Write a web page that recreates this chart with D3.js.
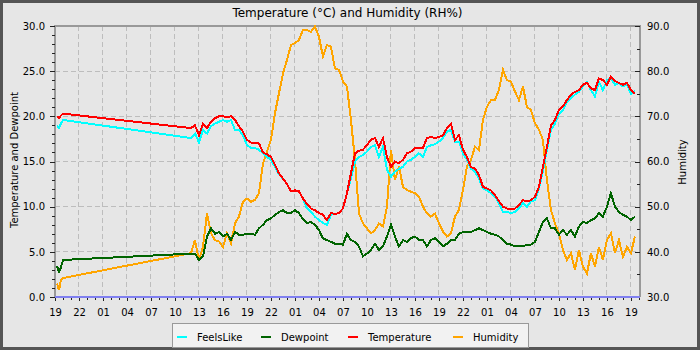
<!DOCTYPE html>
<html>
<head>
<meta charset="utf-8">
<script src="https://cdn.jsdelivr.net/npm/d3@7"></script>
<style>
  body { margin: 0; background: #e6e6e6; }
  svg text { font-family: "DejaVu Sans", sans-serif; fill: #000; }
</style>
</head>
<body>
<script>
// hours after 19:00 on the first day
const hours = [0.25, 0.5, 0.75, 1.0,
    17, 17.5, 18, 18.5, 19, 19.5, 20, 20.5, 21, 21.5, 22, 22.5, 23, 23.5, 24, 24.5,
    25, 25.5, 26, 26.5, 27, 27.5, 28, 28.5, 29, 29.5, 30, 30.5, 31, 31.5,
    32, 32.5, 33, 33.5, 34, 34.5, 35, 35.5, 36, 36.5, 37, 37.5, 38, 38.5,
    39, 39.5, 40, 40.5, 41, 41.5, 42, 42.5, 43, 43.5, 44, 44.5, 45, 45.5,
    46, 46.5, 47, 47.5, 48, 48.5, 49, 49.5, 50, 50.5, 51, 51.5, 52, 52.5,
    53, 53.5, 54, 54.5, 55, 55.5, 56, 56.5, 57, 57.5, 58, 58.5, 59,
    59.5, 60, 60.5, 61, 61.5, 62, 62.5, 63, 63.5, 64, 64.5, 65, 65.5, 66,
    66.5, 67, 67.5, 68, 68.5, 69, 69.5, 70, 70.5, 71, 71.5, 72, 72.5];

const temperature = [20.0, 19.8, 20.1, 20.3,
    18.7, 19.0, 17.9, 19.2, 18.7, 19.4, 19.8, 20.0, 20.0, 19.9, 20.0, 19.6, 18.9, 18.3, 17.4, 17.1,
    17.1, 17.0, 16.0, 15.8, 15.5, 14.6, 13.7, 13.1, 12.5, 11.7, 11.8, 11.7, 10.9, 10.3,
    9.8, 9.6, 9.3, 9.1, 8.5, 9.3, 9.2, 9.3, 9.8, 11.5, 13.7, 15.9, 16.2, 16.3,
    16.8, 17.4, 17.6, 16.6, 17.6, 15.5, 14.4, 15.0, 14.8, 15.2, 15.9, 16.1, 16.5, 16.5,
    16.5, 17.6, 17.7, 17.6, 17.7, 17.9, 18.7, 19.2, 17.4, 17.9, 16.3, 15.5, 14.4, 14.2,
    13.5, 12.2, 12.0, 11.8, 11.3, 10.6, 10.0, 9.8, 9.7, 9.8, 10.2, 10.7, 10.6,
    10.7, 11.1, 12.2, 14.4, 16.6, 19.0, 19.6, 20.7, 21.1, 21.8, 22.4, 22.7, 22.9, 23.5,
    23.7, 23.1, 22.9, 24.2, 24.0, 23.5, 24.4, 23.9, 23.7, 23.5, 23.7, 22.9, 22.5];

const feelsLike = [19.0, 18.7, 19.2, 19.6,
    17.6, 18.1, 17.1, 18.5, 18.1, 18.9, 19.2, 19.4, 19.6, 19.4, 19.6, 18.5, 18.5, 17.9, 16.8, 16.5,
    16.5, 16.3, 15.9, 15.5, 15.2, 14.4, 13.6, 13.1, 12.5, 11.7, 11.8, 11.7, 10.9, 9.8,
    9.4, 8.9, 8.5, 8.2, 8.0, 9.1, 9.2, 9.3, 9.8, 11.5, 13.1, 15.0, 15.5, 15.7,
    16.1, 16.6, 16.8, 15.5, 16.6, 14.1, 13.3, 13.9, 14.2, 14.4, 15.0, 15.2, 15.5, 15.9,
    15.5, 16.6, 16.8, 16.9, 17.2, 17.6, 18.3, 18.5, 17.2, 17.2, 15.9, 15.2, 14.2, 13.9,
    13.1, 12.0, 11.8, 11.5, 11.1, 10.4, 9.4, 9.4, 9.3, 9.4, 9.8, 10.4, 10.0,
    10.6, 10.7, 12.0, 14.0, 16.3, 18.5, 19.2, 20.3, 20.7, 21.6, 22.0, 22.4, 22.7, 23.3,
    23.8, 22.9, 22.2, 23.8, 22.9, 24.0, 24.2, 23.5, 23.7, 23.3, 23.5, 22.5, 22.8];

const dewpoint = [3.4, 2.8, 3.3, 4.1,
    4.8, 4.8, 4.1, 4.5, 6.7, 7.6, 7.0, 7.2, 6.7, 7.0, 6.3, 7.2, 6.9, 6.9, 7.0, 7.0,
    6.9, 7.6, 8.0, 8.5, 8.7, 9.1, 9.4, 9.6, 9.3, 9.3, 9.6, 9.3, 8.6, 8.2,
    8.3, 8.0, 7.4, 6.5, 6.3, 6.1, 5.9, 5.9, 5.8, 7.0, 6.3, 6.1, 5.6, 4.5,
    4.8, 5.2, 5.9, 5.2, 5.6, 6.7, 8.0, 6.7, 5.6, 6.3, 6.1, 6.5, 6.7, 6.3,
    6.3, 5.6, 6.3, 6.5, 6.1, 5.6, 5.9, 6.3, 6.3, 7.0, 7.2, 7.2, 7.2, 7.4,
    7.6, 7.4, 7.2, 7.0, 6.9, 6.7, 6.3, 5.9, 5.8, 5.6, 5.6, 5.6, 5.8,
    5.8, 6.1, 7.2, 8.3, 8.7, 7.6, 7.6, 6.9, 7.4, 6.9, 7.4, 6.7, 7.8, 8.3,
    8.2, 8.5, 8.7, 9.3, 8.9, 10.0, 11.5, 10.0, 9.4, 9.1, 8.9, 8.5, 8.9];

const humidity = [33.0, 31.5, 33.8, 34.2,
    39.7, 42.6, 38.2, 41.1, 48.5, 44.1, 42.6, 42.3, 41.1, 44.1, 41.9, 46.3, 47.8, 51.1, 51.8, 51.1,
    51.5, 53.0, 59.6, 62.2, 64.8, 70.7, 75.1, 79.5, 82.5, 85.8, 86.2, 86.9, 89.1, 89.1,
    88.7, 89.9, 87.6, 83.2, 85.8, 85.4, 80.6, 80.3, 77.7, 76.6, 69.2, 60.3, 48.5, 46.3,
    45.2, 44.1, 44.8, 46.3, 45.6, 50.0, 62.5, 55.9, 58.9, 54.4, 53.7, 53.3, 53.0, 52.2,
    50.0, 48.5, 47.8, 48.5, 46.3, 44.5, 43.4, 44.1, 47.8, 49.3, 53.7, 58.9, 60.3, 63.3,
    62.5, 69.2, 72.1, 73.6, 73.6, 75.8, 80.3, 78.0, 77.7, 75.5, 73.6, 76.6, 72.1,
    71.4, 68.5, 67.0, 64.8, 55.9, 49.3, 46.3, 44.1, 40.4, 38.2, 39.7, 36.0, 40.4, 36.7,
    35.2, 39.7, 36.7, 41.1, 38.2, 42.6, 44.1, 39.7, 42.6, 38.9, 41.1, 39.7, 43.4];

const seriesNames = ["FeelsLike", "Dewpoint", "Temperature", "Humidity"];
const seriesColors = ["#00ffff", "#006400", "#ff0000", "#ffa500"];
const leftTicks = [0, 5, 10, 15, 20, 25, 30];
const rightTicks = [30, 40, 50, 60, 70, 80, 90];

const startTime = new Date(2024, 5, 10, 19, 0);

const drawChart = () => {
    let width = 700,
        height = 350,
        margin = {left: 55, right: 60, top: 26, bottom: 53},
        plotRight = width - margin.right,
        plotBottom = height - margin.bottom;

    let times = hours.map(h => d3.timeMinute.offset(startTime, Math.round(h * 60)));
    let endTime = d3.timeMinute.offset(startTime, 73 * 60 + 8);
    let majorTimes = d3.timeHour.range(startTime, endTime, 3),
        minorTimes = d3.timeHour.range(startTime, endTime);

    let svg = d3.select("body")
        .append("svg")
            .attr("width", width)
            .attr("height", height);

    svg.append("rect")
        .attr("x", 1.5).attr("y", 1.5)
        .attr("width", width - 3).attr("height", height - 3)
        .attr("fill", "#e6e6e6")
        .attr("stroke", "#555")
        .attr("stroke-width", 3);

    let xScale = d3.scaleTime()
        .domain([startTime, endTime])
        .range([margin.left, plotRight]);
    let yLeft = d3.scaleLinear().domain([0, 30]).range([plotBottom, margin.top]);
    let yRight = d3.scaleLinear().domain([30, 90]).range([plotBottom, margin.top]);

    // grid
    let grid = svg.append("g")
        .attr("stroke", "#bdbdbd")
        .attr("stroke-dasharray", "5,3")
        .attr("shape-rendering", "crispEdges");
    grid.selectAll(".vgrid")
        .data(majorTimes.filter(d => xScale(d) > margin.left + 1))
        .enter()
        .append("line")
            .attr("x1", d => xScale(d)).attr("x2", d => xScale(d))
            .attr("y1", margin.top).attr("y2", plotBottom);
    grid.selectAll(".hgrid")
        .data(leftTicks.slice(1, -1))
        .enter()
        .append("line")
            .attr("x1", margin.left).attr("x2", plotRight)
            .attr("y1", d => yLeft(d)).attr("y2", d => yLeft(d));

    // plot frame
    svg.append("path")
        .attr("d", `M${margin.left},${plotBottom}V${margin.top}H${plotRight}V${plotBottom}`)
        .attr("fill", "none")
        .attr("stroke", "#999")
        .attr("stroke-width", 1.5)
        .attr("shape-rendering", "crispEdges");

    let styleAxis = g => {
        g.attr("font-family", "DejaVu Sans").attr("font-size", 10).attr("color", "#222");
        g.select(".domain").remove();
        g.selectAll("line").attr("shape-rendering", "crispEdges");
    };

    // left axis
    svg.append("g")
        .attr("transform", `translate(${margin.left},0)`)
        .call(d3.axisLeft(yLeft).tickValues(d3.range(0, 31)).tickSize(3).tickFormat(""))
        .call(styleAxis);
    svg.append("g")
        .attr("transform", `translate(${margin.left},0)`)
        .call(d3.axisLeft(yLeft).tickValues(leftTicks).tickSize(5).tickPadding(5).tickFormat(d3.format(".1f")))
        .call(styleAxis);

    // right axis, ticks pointing in
    svg.append("g")
        .attr("transform", `translate(${plotRight},0)`)
        .call(d3.axisRight(yRight).tickValues(d3.range(30, 91, 5)).tickSize(-3).tickFormat(""))
        .call(styleAxis);
    svg.append("g")
        .attr("transform", `translate(${plotRight},0)`)
        .call(d3.axisRight(yRight).tickValues(rightTicks).tickSize(-5).tickPadding(7).tickFormat(d3.format(".1f")))
        .call(styleAxis);

    // x axis
    svg.append("g")
        .attr("transform", `translate(0,${plotBottom})`)
        .call(d3.axisBottom(xScale).tickValues(minorTimes).tickSize(3).tickFormat(""))
        .call(styleAxis);
    svg.append("g")
        .attr("transform", `translate(0,${plotBottom})`)
        .call(d3.axisBottom(xScale).tickValues(majorTimes).tickSize(4).tickPadding(8).tickFormat(d3.timeFormat("%H")))
        .call(styleAxis);

    // series
    let leftLine = d3.line()
        .x(d => xScale(d[0]))
        .y(d => yLeft(d[1]));
    let rightLine = d3.line()
        .x(d => xScale(d[0]))
        .y(d => yRight(d[1]));

    let series = [
        {name: "Humidity", values: humidity, line: rightLine},
        {name: "FeelsLike", values: feelsLike, line: leftLine},
        {name: "Dewpoint", values: dewpoint, line: leftLine},
        {name: "Temperature", values: temperature, line: leftLine}
    ];
    svg.append("g")
        .selectAll(".series")
        .data(series)
        .enter()
        .append("path")
            .attr("fill", "none")
            .attr("stroke", d => seriesColors[seriesNames.indexOf(d.name)])
            .attr("stroke-width", 2)
            .attr("shape-rendering", "crispEdges")
            .attr("d", d => d.line(d3.zip(times, d.values)));

    // zero line along the bottom
    svg.append("line")
        .attr("x1", margin.left).attr("x2", plotRight)
        .attr("y1", yLeft(0)).attr("y2", yLeft(0))
        .attr("stroke", "#8080f0")
        .attr("stroke-width", 2);

    // titles
    svg.append("text")
        .attr("x", (margin.left + plotRight) / 2)
        .attr("y", 17)
        .attr("text-anchor", "middle")
        .attr("font-size", 12)
        .text("Temperature (°C) and Humidity (RH%)");
    svg.append("text")
        .attr("transform", `translate(18,160) rotate(-90)`)
        .attr("text-anchor", "middle")
        .attr("font-size", 10)
        .text("Temperature and Dewpoint");
    svg.append("text")
        .attr("transform", `translate(686,162) rotate(-90)`)
        .attr("text-anchor", "middle")
        .attr("font-size", 10)
        .text("Humidity");

    // legend
    let legendX = [177, 261, 348, 453];
    let legend = svg.append("g");
    legend.append("rect")
        .attr("x", 172.5).attr("y", 323.5)
        .attr("width", 356).attr("height", 24)
        .attr("fill", "#f2f2f2")
        .attr("stroke", "#999");
    let items = legend.selectAll(".item")
        .data(seriesNames)
        .enter()
        .append("g")
            .attr("transform", (d, i) => `translate(${legendX[i]},337)`);
    items.append("line")
        .attr("x1", 0).attr("x2", 10)
        .attr("stroke", (d, i) => seriesColors[i])
        .attr("stroke-width", 2);
    items.append("text")
        .attr("x", 20)
        .attr("y", 4)
        .attr("font-size", 10)
        .text(d => d);
};

drawChart();
</script>
</body>
</html>
